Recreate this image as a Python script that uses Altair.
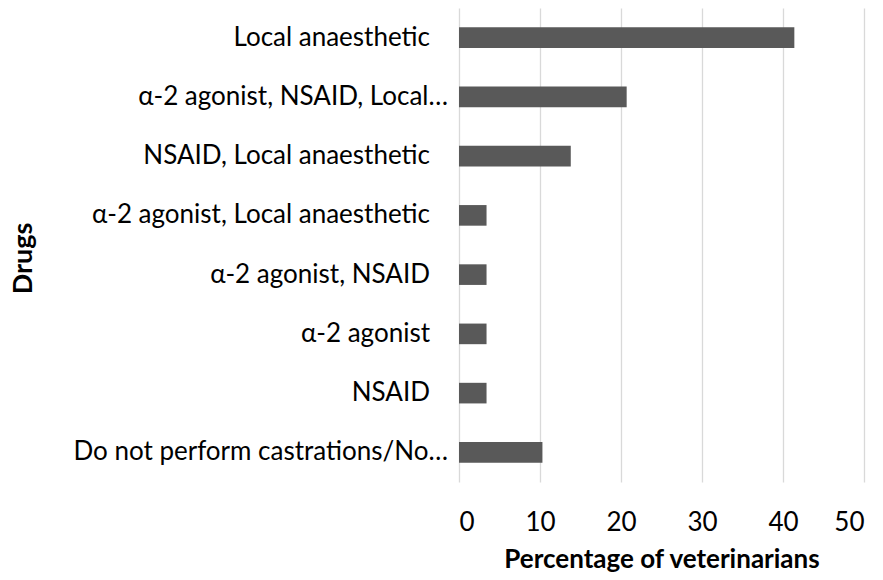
import altair as alt
import pandas as pd

drugs = [
    "Local anaesthetic",
    "α-2 agonist, NSAID, Local…",
    "NSAID, Local anaesthetic",
    "α-2 agonist, Local anaesthetic",
    "α-2 agonist, NSAID",
    "α-2 agonist",
    "NSAID",
    "Do not perform castrations/No…",
]
pct = [41.4, 20.7, 13.8, 3.4, 3.4, 3.4, 3.4, 10.3]
x_ticks = [0, 10, 20, 30, 40, 50]

df = pd.DataFrame({"Drugs": drugs, "pct": pct})
FONT = "Lato"

yscale = alt.Scale(paddingInner=0.652, paddingOuter=0.326)
yaxis = alt.Axis(
    title="Drugs",
    domain=False,
    ticks=False,
    grid=False,
    labels=False,
    titleFont=FONT,
    titleFontSize=27,
    titleFontWeight="bold",
    titleColor="#000000",
    titleAngle=270,
    titleBaseline="middle",
    titleAlign="center",
    titleX=-436,
    titleY=250,
)

base = alt.Chart(df)

bars = base.mark_bar(color="#595959").encode(
    x=alt.X(
        "pct:Q",
        scale=alt.Scale(domain=[0, 50]),
        axis=alt.Axis(
            values=x_ticks,
            title="Percentage of veterinarians",
            grid=True,
            gridColor="#D9D9D9",
            gridWidth=1.3,
            domain=False,
            ticks=False,
            labelFontSize=26,
            labelFont=FONT,
            labelColor="#000000",
            labelBaseline="middle",
            labelPadding=40,
            titleFont=FONT,
            titleFontSize=26,
            titleFontWeight="bold",
            titleColor="#000000",
            titleBaseline="middle",
            titleY=77,
        ),
    ),
    y=alt.Y("Drugs:N", sort=drugs, scale=yscale, axis=yaxis),
)

is_trunc = "indexof(datum.Drugs, '…') >= 0"

labels_full = (
    base.transform_filter(f"!({is_trunc})")
    .mark_text(align="right", baseline="middle", dx=-29, font=FONT, fontSize=26, color="#000000")
    .encode(x=alt.value(0), y=alt.Y("Drugs:N", sort=drugs, scale=yscale, axis=yaxis), text="Drugs:N")
)
labels_trunc = (
    base.transform_filter(is_trunc)
    .mark_text(align="right", baseline="middle", dx=-11, font=FONT, fontSize=26, color="#000000")
    .encode(x=alt.value(0), y=alt.Y("Drugs:N", sort=drugs, scale=yscale, axis=yaxis), text="Drugs:N")
)

chart = (
    alt.layer(bars, labels_full, labels_trunc)
    .properties(
        width=405,
        height=474,
        background="#ffffff",
        autosize=alt.AutoSizeParams(type="none"),
        padding={"left": 451, "top": 0, "right": 9, "bottom": 90},
    )
    .configure_view(strokeWidth=0, stroke="transparent")
)

chart.save("out.html", embed_options={"renderer": "svg", "actions": False})
